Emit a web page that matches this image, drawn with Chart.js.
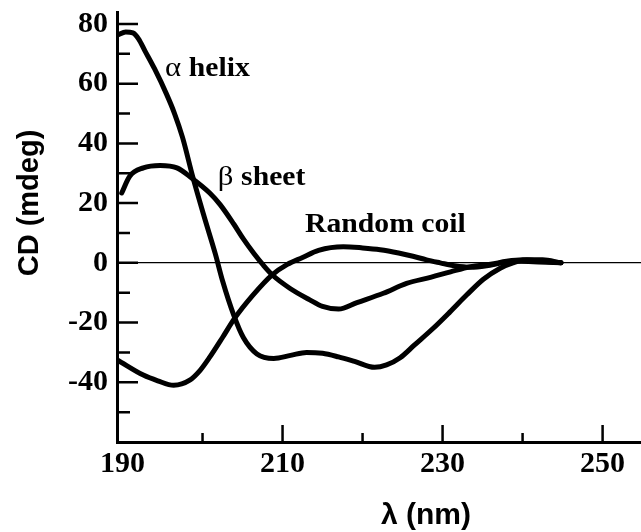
<!DOCTYPE html>
<html>
<head>
<meta charset="utf-8">
<script src="https://cdn.jsdelivr.net/npm/chart.js@4"></script>
<style>
html, body { margin: 0; padding: 0; background: #fff; }
</style>
</head>
<body>
<canvas id="cdSpectra" width="641" height="532"></canvas>
<script>
// CD spectra (wavelength in nm, ellipticity in mdeg)
var helixNm = [189.4, 190.4, 191.3, 192, 192.8, 194, 195.5, 196.5, 197.5, 198.8, 200.2, 201.6, 202.5, 203.9, 205.1, 206.8, 208.9, 211, 213, 215, 217, 219, 221.5, 223, 224.7, 226.5, 228.8, 230.9, 233, 235.1, 237.2, 238.8, 240.5, 242.5, 244.8];
var helixCd = [76.3, 77.3, 77, 75, 71, 65, 56.5, 50, 42, 28.6, 15.5, 3, -6, -17.5, -25, -30.5, -32, -31, -30, -30.3, -31.5, -33, -35, -34.2, -31.8, -27.5, -22, -16.5, -10.8, -5.5, -1.8, 0, 1, 1, 0];

var sheetNm = [189.9, 190.9, 192.6, 194.7, 196.8, 198.6, 200.9, 202.2, 203.9, 205.1, 206.4, 207.6, 208.7, 210.9, 213.4, 215, 217, 219.3, 222.6, 225.5, 228.6, 231, 233.5, 236, 238, 240, 242.5, 244.8];
var sheetCd = [23.4, 29, 31.8, 32.6, 31.8, 28.5, 23.4, 19.5, 13, 8, 3.2, -0.8, -4, -8.5, -12.4, -14.6, -15.5, -13.3, -10.2, -6.9, -4.8, -3, -1.3, -0.5, 0.5, 1, 0.5, 0];

var coilNm = [189.4, 192.6, 194.4, 196.4, 198.4, 199.7, 200.9, 202.5, 204, 206.3, 208.7, 210.6, 212.5, 214.5, 217.6, 220, 222.2, 224.5, 226.3, 228, 229.7, 231.5, 233.5, 235.5, 237.5, 239.5, 242, 244.8];
var coilCd = [-32.6, -37.6, -39.5, -41, -39.3, -36, -31.6, -25, -18.6, -10.8, -4, -0.5, 1.8, 4.2, 5.4, 5, 4.4, 3.3, 2.2, 1, 0, -1, -1.5, -1, 0, 0.5, 0.3, 0];

var xTickLabels = [190, 210, 230, 250];
var xMinorTicks = [200, 220, 240];
var yTickLabels = [-40, -20, 0, 20, 40, 60, 80];
var yMinorTicks = [-50, -30, -10, 10, 30, 50, 70];

var curveNames = ["helix", "sheet", "Random coil"];
var curveGreek = ["\u03b1", "\u03b2", ""];
var curveNameNm = [195.3, 201.9, 212.8];
var curveNameCd = [62.5, 26.2, 10.4];

function points(xs, ys) {
    return xs.map(function (x, i) { return { x: x, y: ys[i] }; });
}

function curve(label, xs, ys) {
    return {
        label: label,
        data: points(xs, ys),
        showLine: true,
        borderColor: "#000",
        borderWidth: 5,
        borderCapStyle: 'round',
        borderJoinStyle: 'round',
        pointRadius: 0,
        cubicInterpolationMode: 'monotone',
        fill: false
    };
}

// inward tick marks, major and minor
var tickMarks = {
    id: 'tickMarks',
    afterDraw: function (chart) {
        var c = chart.ctx, area = chart.chartArea, x = chart.scales.x, y = chart.scales.y;
        c.save();
        c.strokeStyle = "#000";
        c.lineWidth = 2.5;
        c.beginPath();
        yTickLabels.forEach(function (v) {
            var py = y.getPixelForValue(v);
            c.moveTo(area.left, py); c.lineTo(area.left + 21, py);
        });
        yMinorTicks.forEach(function (v) {
            var py = y.getPixelForValue(v);
            c.moveTo(area.left, py); c.lineTo(area.left + 13, py);
        });
        xTickLabels.forEach(function (v) {
            if (v <= x.min + 1) return;
            var px = x.getPixelForValue(v);
            c.moveTo(px, area.bottom); c.lineTo(px, area.bottom - 17);
        });
        xMinorTicks.forEach(function (v) {
            var px = x.getPixelForValue(v);
            c.moveTo(px, area.bottom); c.lineTo(px, area.bottom - 9);
        });
        c.stroke();
        c.restore();
    }
};

// axis titles and the curve names
var textLabels = {
    id: 'textLabels',
    afterDraw: function (chart) {
        var c = chart.ctx, x = chart.scales.x, y = chart.scales.y;
        c.save();
        c.fillStyle = "#000";
        c.textBaseline = 'alphabetic';
        curveNames.forEach(function (name, i) {
            c.save();
            c.translate(x.getPixelForValue(curveNameNm[i]), y.getPixelForValue(curveNameCd[i]));
            c.scale(1.1, 1);
            var off = 0;
            if (curveGreek[i]) {
                c.font = '28px "Liberation Serif"';
                c.fillText(curveGreek[i], 0, 0);
                off = c.measureText(curveGreek[i]).width + 7;
            }
            c.font = 'bold 27px "Liberation Serif"';
            c.fillText(name, off, 0);
            c.restore();
        });

        c.textAlign = 'center';
        c.textBaseline = 'middle';
        c.font = 'bold 30px "Liberation Sans"';
        c.fillText("\u03bb (nm)", 426, 516);

        c.font = 'bold 29px "Liberation Sans"';
        c.translate(30, 203);
        c.rotate(-Math.PI / 2);
        c.fillText("CD (mdeg)", 0, 0);
        c.restore();
    }
};

var tickFont = { family: 'Liberation Serif', weight: 'bold', size: 30 };

var cdChart = new Chart(document.getElementById("cdSpectra"), {
    type: 'scatter',
    data: {
        datasets: [
            curve("alpha helix", helixNm, helixCd),
            curve("beta sheet", sheetNm, sheetCd),
            curve("random coil", coilNm, coilCd)
        ]
    },
    options: {
        responsive: false,
        devicePixelRatio: 1,
        animation: false,
        layout: { padding: { top: 12, right: 0, bottom: 0, left: 0 } },
        plugins: {
            legend: { display: false },
            tooltip: { enabled: false }
        },
        scales: {
            x: {
                type: 'linear',
                min: 189.31,
                max: 254.8,
                afterBuildTicks: function (s) {
                    s.ticks = xTickLabels.map(function (v) { return { value: v }; });
                },
                afterFit: function (s) {
                    s.height = 90;
                    s.paddingLeft = 0;
                    s.paddingRight = 0;
                },
                grid: { display: false, drawTicks: false },
                border: { display: true, color: "#000", width: 3 },
                ticks: { color: "#000", font: tickFont, padding: 4, maxRotation: 0, autoSkip: false }
            },
            y: {
                type: 'linear',
                min: -60,
                max: 84,
                afterBuildTicks: function (s) {
                    s.ticks = yTickLabels.map(function (v) { return { value: v }; });
                },
                afterFit: function (s) {
                    s.width = 117;
                    s.paddingTop = 0;
                    s.paddingBottom = 0;
                },
                grid: {
                    drawTicks: false,
                    lineWidth: 1.2,
                    color: function (ctx) {
                        return ctx.tick && ctx.tick.value === 0 ? "#000" : "rgba(0,0,0,0)";
                    }
                },
                border: { display: true, color: "#000", width: 3 },
                ticks: { color: "#000", font: tickFont, padding: 9, autoSkip: false }
            }
        }
    },
    plugins: [tickMarks, textLabels]
});
</script>
</body>
</html>
